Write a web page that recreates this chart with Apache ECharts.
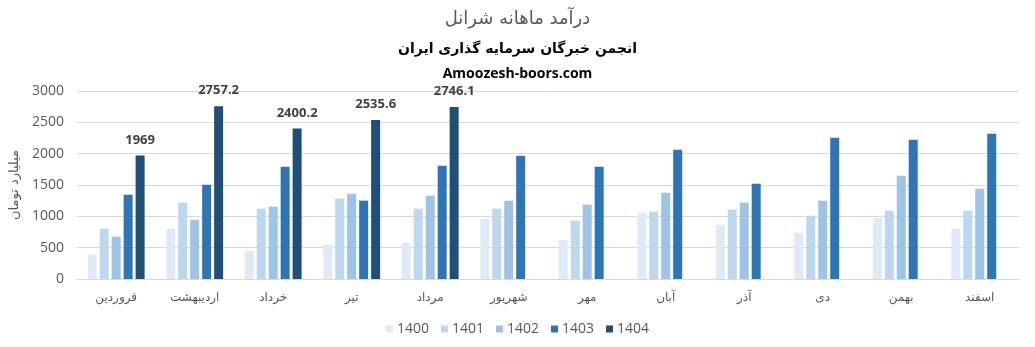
<!DOCTYPE html>
<html><head><meta charset="utf-8">
<script src="https://cdn.jsdelivr.net/npm/echarts@6/dist/echarts.min.js"></script>
<style>html,body{margin:0;padding:0;background:#fff}#c{width:1035px;height:347px}</style>
</head><body><div id="c"></div>
<script>
const months = ['فروردین','اردیبهشت','خرداد','تیر','مرداد','شهریور','مهر','آبان','آذر','دی','بهمن','اسفند'];
const years = ['1400','1401','1402','1403','1404'];
const s1400 = [388, 803, 452, 547, 579, 962, 627, 1058, 867, 739, 978, 803];
const s1401 = [803, 1218, 1122, 1282, 1122, 1122, 930, 1074, 1106, 1010, 1090, 1090];
const s1402 = [675, 946, 1154, 1361, 1330, 1250, 1186, 1377, 1218, 1250, 1649, 1441];
const s1403 = [1345, 1505, 1792, 1250, 1808, 1968, 1792, 2064, 1521, 2255, 2223, 2319];
const s1404 = [1969, 2757.2, 2400.2, 2535.6, 2746.1, null, null, null, null, null, null, null];
const yTicks = [0, 500, 1000, 1500, 2000, 2500, 3000];
const colors = ['#DEEBF7','#BDD7EE','#9DC3E6','#2E75B6','#1F4E79'];
const seriesData = [s1400, s1401, s1402, s1403, s1404];

const chart = echarts.init(document.getElementById('c'), null, {renderer:'canvas'});
chart.setOption({
  animation: false,
  title: [
    {text:'درآمد ماهانه شرانل', left:'center', top:5, textStyle:{fontFamily:'DejaVu Sans', fontSize:18, fontWeight:'normal', color:'#595959'}},
    {text:'انجمن خبرگان سرمایه گذاری ایران', left:'center', top:37, textStyle:{fontFamily:'DejaVu Sans', fontSize:14, fontWeight:'bold', color:'#000'}},
    {text:'Amoozesh-boors.com', left:'center', top:62, textStyle:{fontFamily:'Open Sans', fontSize:14, fontWeight:'bold', color:'#000'}}
  ],
  grid: {left:75, right:16, top:91, bottom:68, containLabel:false},
  legend: {
    data: years, bottom:6, left:'center', itemWidth:7, itemHeight:7, itemGap:12, icon:'rect',
    textStyle:{fontFamily:'Open Sans', fontSize:14, color:'#595959', padding:[0,0,0,-1]}
  },
  xAxis: {
    type:'category', data: months,
    axisLine:{lineStyle:{color:'#D9D9D9'}}, axisTick:{show:false},
    axisLabel:{fontFamily:'DejaVu Sans', fontSize:12, color:'#595959', margin:13}
  },
  yAxis: {
    type:'value', min:yTicks[0], max:yTicks[yTicks.length-1], interval:500,
    name:'میلیارد تومان', nameLocation:'middle', nameGap:52, nameRotate:90,
    nameTextStyle:{fontFamily:'DejaVu Sans', fontSize:13, color:'#595959'},
    axisLine:{show:false}, axisTick:{show:false},
    axisLabel:{fontFamily:'Open Sans', fontSize:14, color:'#595959', margin:13, formatter: v => String(v)},
    splitLine:{lineStyle:{color:'#D9D9D9'}}
  },
  series: years.map((y,i)=>({
    name:y, type:'bar', data: seriesData[i], barWidth:9, barGap:'33%',
    itemStyle:{color:colors[i]},
    label: i===4 ? {show:true, position:'top', distance:9, fontFamily:'Open Sans', fontSize:13, fontWeight:'bold', color:'#404040'} : {show:false}
  }))
});
</script></body></html>
